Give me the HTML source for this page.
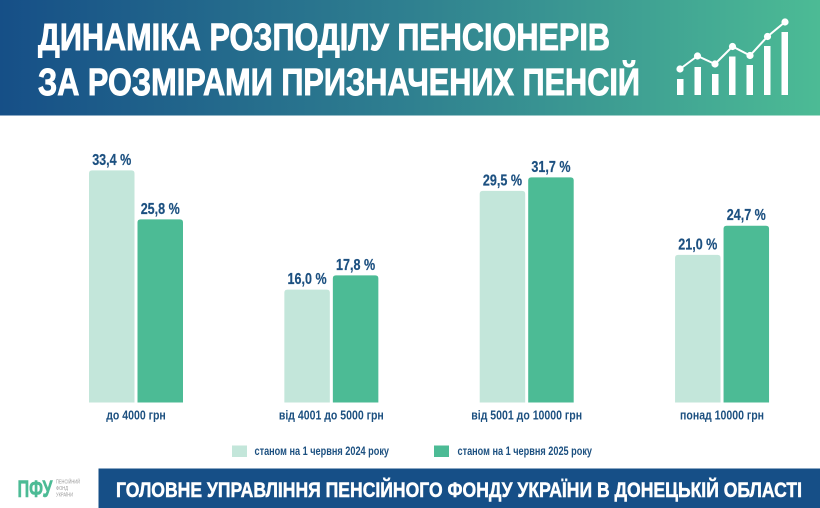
<!DOCTYPE html>
<html lang="uk">
<head>
<meta charset="utf-8">
<title>Динаміка розподілу пенсіонерів</title>
<style>
html,body{margin:0;padding:0;background:#fff;width:820px;height:508px;overflow:hidden}
svg{display:block}
text{font-family:"Liberation Sans","Noto Sans CJK SC",sans-serif;font-weight:700}
</style>
</head>
<body>
<svg id="chart" xmlns="http://www.w3.org/2000/svg" width="820" height="508" viewBox="0 0 820 508">
  <defs>
    <linearGradient id="hdr" x1="0" y1="0" x2="1" y2="0">
      <stop offset="0" stop-color="#164f87"/>
      <stop offset="0.5" stop-color="#2f8090"/>
      <stop offset="1" stop-color="#4cbb95"/>
    </linearGradient>
  </defs>
  <rect x="0" y="0" width="820" height="508" fill="#ffffff"/>
  <rect x="0" y="0" width="820" height="115.5" fill="url(#hdr)"/>
  <text x="38" y="50" font-size="38" fill="#ffffff" stroke="#ffffff" stroke-width="0.9" textLength="572" lengthAdjust="spacingAndGlyphs">ДИНАМІКА РОЗПОДІЛУ ПЕНСІОНЕРІВ</text>
  <text x="38" y="95" font-size="38" fill="#ffffff" stroke="#ffffff" stroke-width="0.9" textLength="602" lengthAdjust="spacingAndGlyphs">ЗА РОЗМІРАМИ ПРИЗНАЧЕНИХ ПЕНСІЙ</text>
  <g fill="#ffffff">
    <rect x="677" y="79" width="6.5" height="16"/>
    <rect x="694.5" y="67" width="6.5" height="28"/>
    <rect x="712" y="74" width="6.5" height="21"/>
    <rect x="729" y="56.500" width="6.5" height="38.5"/>
    <rect x="746.500" y="65" width="6.5" height="30"/>
    <rect x="764" y="46" width="6.5" height="49"/>
    <rect x="781.500" y="32" width="6.5" height="63"/>
    <polyline points="680,69 697.500,56 715,64 732.500,46.500 750,55.500 767.500,36.500 785,22" fill="none" stroke="#ffffff" stroke-width="2"/>
    <circle cx="680" cy="69" r="3.6"/>
    <circle cx="697.500" cy="56" r="3.6"/>
    <circle cx="715" cy="64" r="3.6"/>
    <circle cx="732.500" cy="46.500" r="3.6"/>
    <circle cx="750" cy="55.500" r="3.6"/>
    <circle cx="767.500" cy="36.500" r="3.6"/>
    <circle cx="785" cy="22" r="3.6"/>
  </g>
  <g id="plot"></g>
  <g>
    <g>
      <rect x="232" y="445.500" width="15" height="11.500" fill="#c3e6da"/>
      <text x="254.500" y="455" font-size="12" fill="#1c5080" textLength="134.500" lengthAdjust="spacingAndGlyphs">станом на 1 червня 2024 року</text>
    </g>
    <g>
      <rect x="434" y="445.500" width="15" height="11.500" fill="#4cbb95"/>
      <text x="457.500" y="455" font-size="12" fill="#1c5080" textLength="134.500" lengthAdjust="spacingAndGlyphs">станом на 1 червня 2025 року</text>
    </g>
  </g>
  <g>
    <text x="17.500" y="497" font-size="24" fill="#4cbb95" stroke="#4cbb95" stroke-width="0.6" textLength="35" lengthAdjust="spacingAndGlyphs">ПФУ</text>
    <text x="56" y="483.500" font-size="5" fill="#9a9a9a" style="font-weight:400" textLength="24" lengthAdjust="spacingAndGlyphs">ПЕНСІЙНИЙ</text>
    <text x="56" y="490" font-size="5" fill="#9a9a9a" style="font-weight:400" textLength="12" lengthAdjust="spacingAndGlyphs">ФОНД</text>
    <text x="56" y="496.500" font-size="5" fill="#9a9a9a" style="font-weight:400" textLength="17" lengthAdjust="spacingAndGlyphs">УКРАЇНИ</text>
  </g>
  <rect x="98.500" y="468.500" width="721.500" height="39.500" fill="#164f87"/>
  <text x="116" y="497" font-size="21" fill="#ffffff" stroke="#ffffff" stroke-width="0.5" textLength="686" lengthAdjust="spacingAndGlyphs">ГОЛОВНЕ УПРАВЛІННЯ ПЕНСІЙНОГО ФОНДУ УКРАЇНИ В ДОНЕЦЬКІЙ ОБЛАСТІ</text>
</svg>
<script>
// Category names along the x axis
const categories = ['до 4000 грн', 'від 4001 до 5000 грн', 'від 5001 до 10000 грн', 'понад 10000 грн'];
// Bar heights, in percent
const series2024 = [32.7, 15.9, 29.8, 20.8];
const series2025 = [25.8, 17.9, 31.7, 24.9];
// Values printed above the bars
const printed2024 = ['33,4 %', '16,0 %', '29,5 %', '21,0 %'];
const printed2025 = ['25,8 %', '17,8 %', '31,7 %', '24,7 %'];

const SVG_NS = 'http://www.w3.org/2000/svg';
const plot = document.getElementById('plot');
const baselineY = 402.5;
const pxPerPercent = 7.1;
const firstGroupCentre = 136;
const groupStep = 195.35;
const barWidth = 45.5;
const barGap = 3;
const condense = 0.81;

function yScale(v) { return baselineY - v * pxPerPercent; }
function xCentre(i) { return firstGroupCentre + i * groupStep; }

function barPath(x, y, w, h, r) {
  return 'M' + x + ' ' + (y + h) + 'V' + (y + r) + 'Q' + x + ' ' + y + ' ' + (x + r) + ' ' + y +
    'H' + (x + w - r) + 'Q' + (x + w) + ' ' + y + ' ' + (x + w) + ' ' + (y + r) + 'V' + (y + h) + 'Z';
}

function condenseText(node) {
  const natural = node.getComputedTextLength();
  node.setAttribute('textLength', (natural * condense).toFixed(1));
  node.setAttribute('lengthAdjust', 'spacingAndGlyphs');
}

function addBar(i, value, printed, side, colour, year) {
  const x = side < 0 ? xCentre(i) - barGap / 2 - barWidth : xCentre(i) + barGap / 2;
  const y = yScale(value);
  const bar = document.createElementNS(SVG_NS, 'path');
  bar.setAttribute('d', barPath(x, y, barWidth, baselineY - y, 3));
  bar.setAttribute('fill', colour);
  
  
  plot.appendChild(bar);

  const label = document.createElementNS(SVG_NS, 'text');
  label.textContent = printed;
  label.setAttribute('x', x + barWidth / 2);
  label.setAttribute('y', y - 5.5);
  label.setAttribute('text-anchor', 'middle');
  label.setAttribute('font-size', '15.5');
  label.setAttribute('fill', '#1c5080');
  label.setAttribute('stroke', '#1c5080');
  label.setAttribute('stroke-width', '0.2');
  
  
  plot.appendChild(label);
  condenseText(label);
}

categories.forEach(function (name, i) {
  addBar(i, series2024[i], printed2024[i], -1, '#c3e6da', '2024');
  addBar(i, series2025[i], printed2025[i], 1, '#4cbb95', '2025');

  const tick = document.createElementNS(SVG_NS, 'text');
  tick.textContent = name;
  tick.setAttribute('x', xCentre(i));
  tick.setAttribute('y', 419.5);
  tick.setAttribute('text-anchor', 'middle');
  tick.setAttribute('font-size', '13');
  tick.setAttribute('fill', '#1c5080');
  
  
  plot.appendChild(tick);
  condenseText(tick);
});
</script>
</body>
</html>
